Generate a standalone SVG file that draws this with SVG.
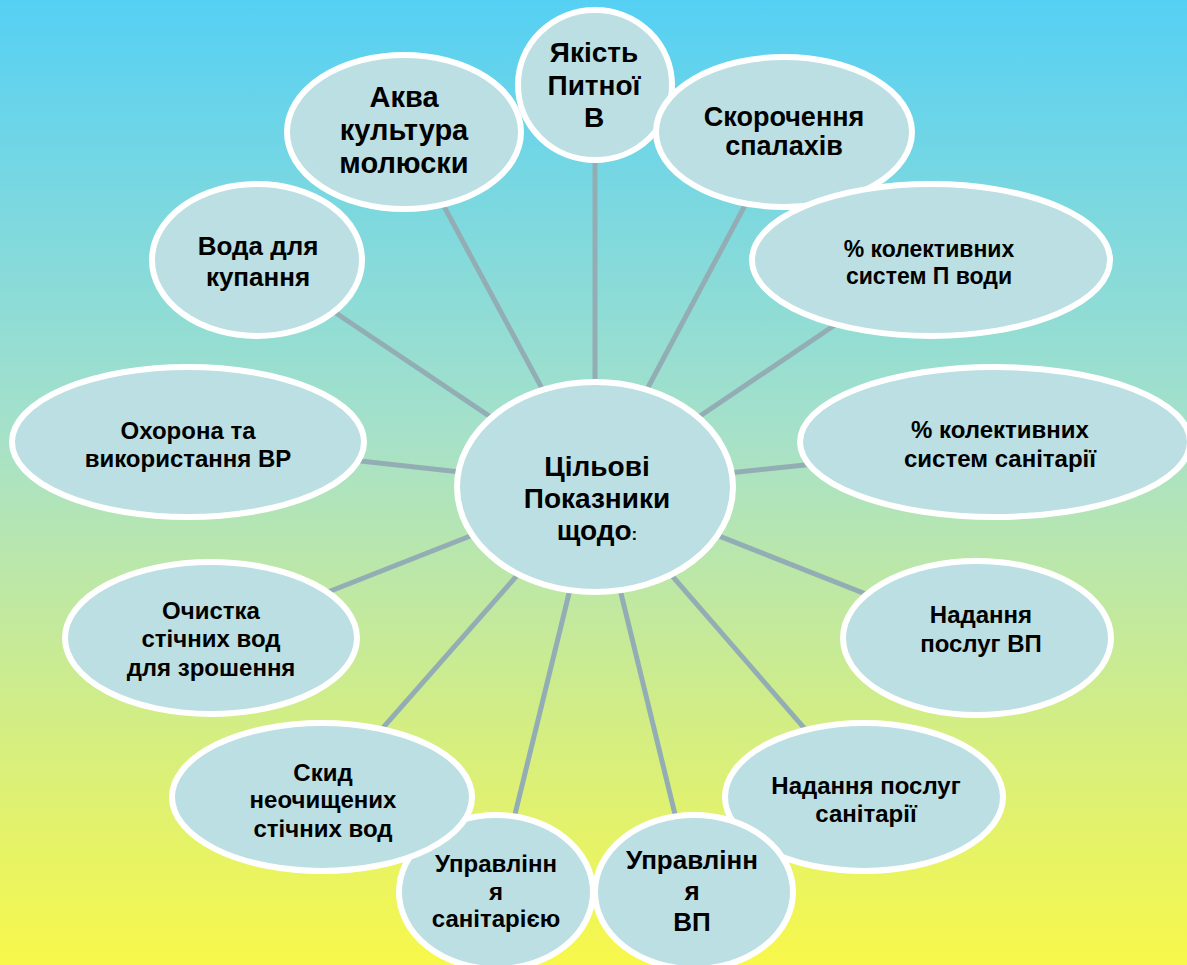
<svg xmlns="http://www.w3.org/2000/svg" width="1187" height="965" viewBox="0 0 1187 965">
<defs>
<linearGradient id="bg" x1="0" y1="0" x2="0" y2="1">
<stop offset="0" stop-color="#55d0f4"/>
<stop offset="0.45" stop-color="#a6e1c9"/>
<stop offset="1" stop-color="#f8f84a"/>
</linearGradient>
</defs>
<style>
.n{fill:#bbdfe2;stroke:#ffffff;stroke-width:6}
.c{stroke:#93adb5;stroke-width:5;fill:none}
text{font-family:"Liberation Sans",Arial,sans-serif;font-weight:bold;fill:#000;text-anchor:middle}
</style>
<rect x="0" y="0" width="1187" height="965" fill="url(#bg)"/>
<g id="connectors">
<line class="c" x1="595" y1="487" x2="595" y2="85"/>
<line class="c" x1="595" y1="487" x2="404" y2="132"/>
<line class="c" x1="595" y1="487" x2="784" y2="132"/>
<line class="c" x1="595" y1="487" x2="931" y2="260"/>
<line class="c" x1="595" y1="487" x2="995" y2="445"/>
<line class="c" x1="595" y1="487" x2="977" y2="638"/>
<line class="c" x1="595" y1="487" x2="864" y2="797"/>
<line class="c" x1="595" y1="487" x2="694" y2="892"/>
<line class="c" x1="595" y1="487" x2="496" y2="892"/>
<line class="c" x1="595" y1="487" x2="322" y2="797"/>
<line class="c" x1="595" y1="487" x2="211" y2="638"/>
<line class="c" x1="595" y1="487" x2="188" y2="442"/>
<line class="c" x1="595" y1="487" x2="257" y2="260"/>
</g>
<g id="center">
<ellipse class="n" cx="595" cy="487" rx="138" ry="105"/>
<text font-size="28"><tspan x="597" y="476">Цільові</tspan><tspan x="597" y="508">Показники</tspan><tspan x="597" y="540">щодо<tspan font-size="17">:</tspan></tspan></text>
</g>
<g id="akva">
<ellipse class="n" cx="404" cy="132" rx="117" ry="77"/>
<text font-size="29"><tspan x="404" y="107">Аква</tspan><tspan x="404" y="140">культура</tspan><tspan x="404" y="173">молюски</tspan></text>
</g>
<g id="yakist">
<ellipse class="n" cx="595" cy="85" rx="77" ry="75"/>
<text font-size="28"><tspan x="594" y="62">Якість</tspan><tspan x="594" y="95">Питної</tspan><tspan x="594" y="127">В</tspan></text>
</g>
<g id="skorochennya">
<ellipse class="n" cx="784" cy="132" rx="128" ry="75"/>
<text font-size="27"><tspan x="784" y="126">Скорочення</tspan><tspan x="784" y="155">спалахів</tspan></text>
</g>
<g id="kolektyvni-voda">
<ellipse class="n" cx="931" cy="260" rx="179" ry="76"/>
<text font-size="23"><tspan x="929" y="257">% колективних</tspan><tspan x="929" y="284">систем П води</tspan></text>
</g>
<g id="kolektyvni-sanitariya">
<ellipse class="n" cx="995" cy="442" rx="195" ry="75"/>
<text font-size="24"><tspan x="1000" y="438">% колективних</tspan><tspan x="1000" y="467">систем санітарії</tspan></text>
</g>
<g id="nadannya-vp">
<ellipse class="n" cx="977" cy="638" rx="134" ry="77"/>
<text font-size="24"><tspan x="981" y="623">Надання</tspan><tspan x="981" y="652">послуг ВП</tspan></text>
</g>
<g id="nadannya-sanitariyi">
<ellipse class="n" cx="864" cy="797" rx="139" ry="74"/>
<text font-size="24"><tspan x="866" y="794">Надання послуг</tspan><tspan x="866" y="822">санітарії</tspan></text>
</g>
<g id="upravlinnya-sanitariyeyu">
<ellipse class="n" cx="496" cy="892" rx="97" ry="77"/>
<text font-size="24"><tspan x="496" y="872">Управлінн</tspan><tspan x="496" y="900">я</tspan><tspan x="496" y="927">санітарією</tspan></text>
</g>
<g id="upravlinnya-vp">
<ellipse class="n" cx="694" cy="892" rx="99" ry="77"/>
<text font-size="26"><tspan x="692" y="869">Управлінн</tspan><tspan x="692" y="900">я</tspan><tspan x="692" y="931">ВП</tspan></text>
</g>
<g id="skyd">
<ellipse class="n" cx="322" cy="797" rx="150" ry="74"/>
<text font-size="24"><tspan x="323" y="781">Скид</tspan><tspan x="323" y="808">неочищених</tspan><tspan x="323" y="837">стічних вод</tspan></text>
</g>
<g id="ochystka">
<ellipse class="n" cx="211" cy="638" rx="146" ry="76"/>
<text font-size="24"><tspan x="211" y="619">Очистка</tspan><tspan x="211" y="647">стічних вод</tspan><tspan x="211" y="676">для зрошення</tspan></text>
</g>
<g id="okhorona">
<ellipse class="n" cx="188" cy="442" rx="176" ry="75"/>
<text font-size="24"><tspan x="188" y="439">Охорона та</tspan><tspan x="188" y="467">використання ВР</tspan></text>
</g>
<g id="voda">
<ellipse class="n" cx="257" cy="260" rx="105" ry="76"/>
<text font-size="26"><tspan x="258" y="255">Вода для</tspan><tspan x="258" y="286">купання</tspan></text>
</g>
</svg>
